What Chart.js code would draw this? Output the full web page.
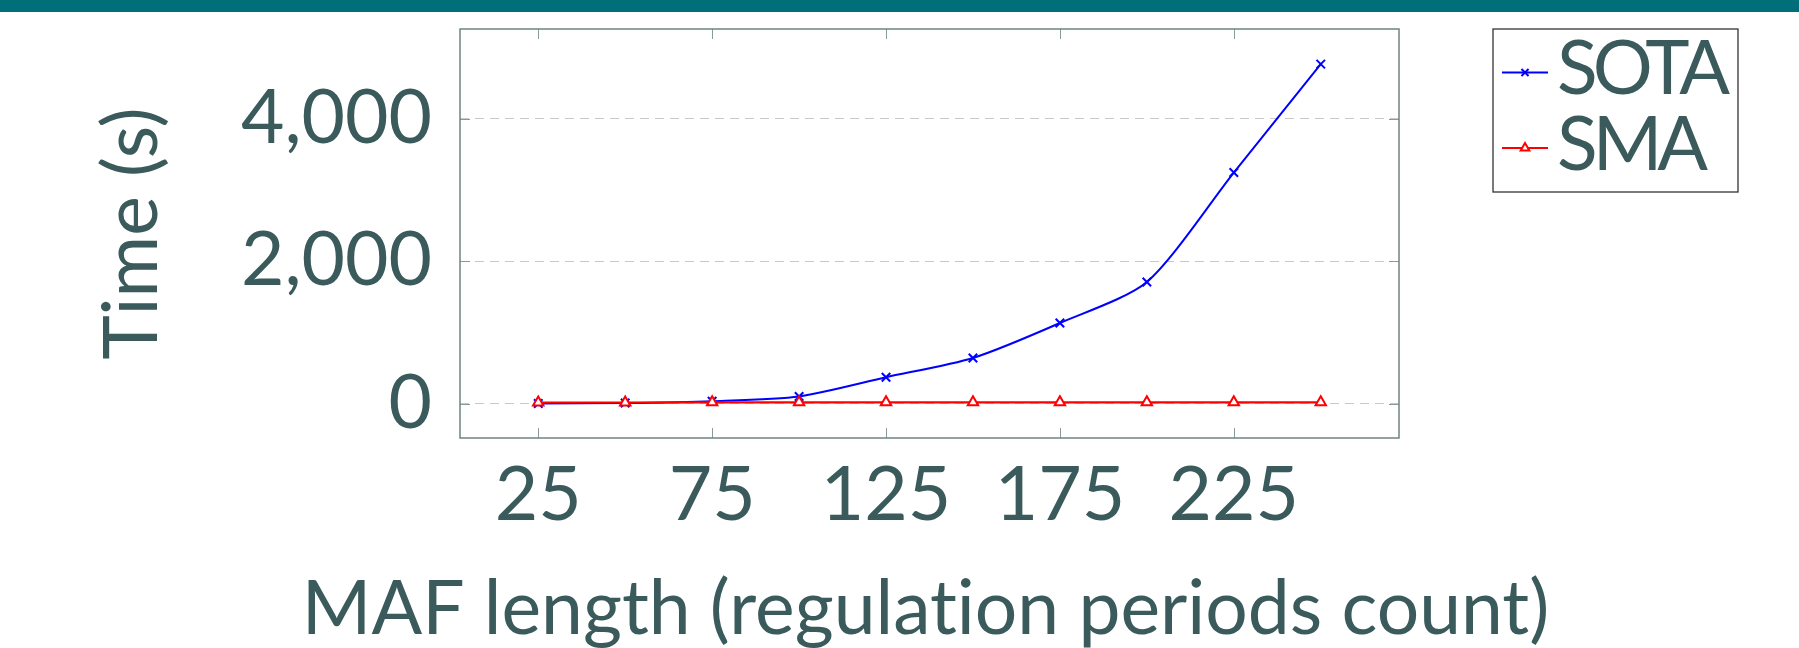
<!DOCTYPE html>
<html>
<head>
<meta charset="utf-8">
<script src="https://cdn.jsdelivr.net/npm/chart.js"></script>
<style>
  html, body { margin: 0; padding: 0; background: #fff; }
  #wrap { position: relative; width: 1799px; height: 648px; }
</style>
</head>
<body>
<div id="wrap"><canvas id="chart" width="1799" height="648"></canvas></div>
<script>
// values
const mafLengths = [25, 50, 75, 100, 125, 150, 175, 200, 225, 250];
const sotaTimes = [5, 12, 38, 105, 375, 645, 1135, 1710, 3245, 4765];
const smaTimes = [20, 20, 22, 22, 22, 22, 22, 22, 22, 22];
const xTickValues = [25, 75, 125, 175, 225];
const yTickValues = [0, 2000, 4000];
// zero-width non-joiner keeps Lato from using its "ti" ligature
const xTitle = "MAF length (regulat\u200Cion periods count)";

const textColor = "#3a5a5b";
const bigFont = { family: "Lato", size: 75, lineHeight: 1 };

// box round the plot, inner tick marks, top bar, x title and the legend
const decor = {
  id: "decor",
  beforeDraw(chart) {
    const ctx = chart.ctx;
    ctx.save();
    ctx.fillStyle = "#006f79";
    ctx.fillRect(0, 0, chart.width, 12);
    ctx.restore();
  },
  afterDraw(chart) {
    const { ctx, chartArea: a, scales } = chart;
    ctx.save();
    ctx.strokeStyle = "#8a9a9a";
    ctx.lineWidth = 1;
    ctx.beginPath();
    xTickValues.forEach(v => {
      const px = Math.round(scales.x.getPixelForValue(v)) + 0.5;
      ctx.moveTo(px, a.bottom); ctx.lineTo(px, a.bottom - 10);
      ctx.moveTo(px, a.top); ctx.lineTo(px, a.top + 10);
    });
    yTickValues.forEach(v => {
      const py = Math.round(scales.y.getPixelForValue(v)) + 0.5;
      ctx.moveTo(a.left, py); ctx.lineTo(a.left + 10, py);
      ctx.moveTo(a.right, py); ctx.lineTo(a.right - 10, py);
    });
    ctx.stroke();

    ctx.strokeStyle = "#6f8483";
    ctx.lineWidth = 1.5;
    ctx.strokeRect(a.left, a.top, a.right - a.left, a.bottom - a.top);

    // x axis title (drawn here so it is not squeezed to the axis width)
    ctx.fillStyle = textColor;
    ctx.font = "75px Lato";
    ctx.textAlign = "center";
    ctx.textBaseline = "alphabetic";
    ctx.fillText(xTitle, (a.left + a.right) / 2 - 4, 634);

    // legend
    const bx = a.right + 94, by = a.top, bw = 245, bh = 163;
    ctx.strokeStyle = "#333";
    ctx.lineWidth = 1.3;
    ctx.strokeRect(bx, by, bw, bh);
    chart.data.datasets.forEach((ds, i) => {
      const ly = by + 43.5 + i * 75.5;
      ctx.strokeStyle = ds.borderColor;
      ctx.lineWidth = ds.borderWidth;
      ctx.beginPath();
      ctx.moveTo(bx + 9, ly); ctx.lineTo(bx + 55, ly);
      ctx.stroke();
      ctx.fillStyle = ds.pointBackgroundColor;
      ctx.lineWidth = ds.pointBorderWidth;
      Chart.helpers.drawPoint(ctx, {
        pointStyle: ds.pointStyle, radius: ds.pointRadius - 1,
        rotation: 0, borderWidth: ds.pointBorderWidth
      }, bx + 32, ly);
      ctx.fillStyle = textColor;
      ctx.font = "75px Lato";
      ctx.textAlign = "left";
      ctx.letterSpacing = "-5px";
      ctx.fillText(ds.label, bx + 64, by + 65 + i * 75.5);
      ctx.letterSpacing = "0px";
    });
    ctx.restore();
  }
};

new Chart(document.getElementById("chart"), {
  type: "line",
  data: {
    datasets: [
      {
        label: "SOTA",
        data: mafLengths.map((x, i) => ({ x, y: sotaTimes[i] })),
        borderColor: "#0000ff",
        borderWidth: 2,
        pointStyle: "crossRot",
        pointRadius: 6,
        pointBorderWidth: 2,
        pointBorderColor: "#0000ff",
        pointBackgroundColor: "#0000ff",
        tension: 0.25,
        order: 1
      },
      {
        label: "SMA",
        data: mafLengths.map((x, i) => ({ x, y: smaTimes[i] })),
        borderColor: "#ff0000",
        borderWidth: 2.2,
        pointStyle: "triangle",
        pointRadius: 6,
        pointBorderWidth: 2,
        pointBorderColor: "#ff0000",
        pointBackgroundColor: "#ffffff",
        tension: 0,
        order: 0
      }
    ]
  },
  options: {
    responsive: false,
    animation: false,
    devicePixelRatio: 1,
    layout: { padding: { left: 0, top: 29, right: 400, bottom: 0 } },
    plugins: { legend: { display: false }, tooltip: { enabled: false } },
    scales: {
      x: {
        type: "linear",
        min: 2.5,
        max: 272.5,
        afterBuildTicks: s => { s.ticks = xTickValues.map(v => ({ value: v })); },
        afterFit: s => { s.height = 210; s.paddingLeft = 0; s.paddingRight = 0; },
        grid: { display: false, drawTicks: false },
        border: { display: false },
        ticks: { font: bigFont, color: textColor, padding: 20, maxRotation: 0, autoSkip: false }
      },
      y: {
        type: "linear",
        min: -478,
        max: 5258,
        afterBuildTicks: s => { s.ticks = yTickValues.map(v => ({ value: v })); },
        afterFit: s => { s.width = 460; s.paddingTop = 0; s.paddingBottom = 0; },
        grid: { color: "#c8c8c8", lineWidth: 1, drawTicks: false },
        border: { display: false, dash: [9, 6] },
        ticks: {
          font: bigFont,
          color: textColor,
          padding: 28,
          callback: v => v.toLocaleString("en-US")
        },
        title: {
          display: true,
          text: "Time (s)",
          font: bigFont,
          color: textColor,
          padding: { top: 95, bottom: 0 }
        }
      }
    }
  },
  plugins: [decor]
});
</script>
</body>
</html>
